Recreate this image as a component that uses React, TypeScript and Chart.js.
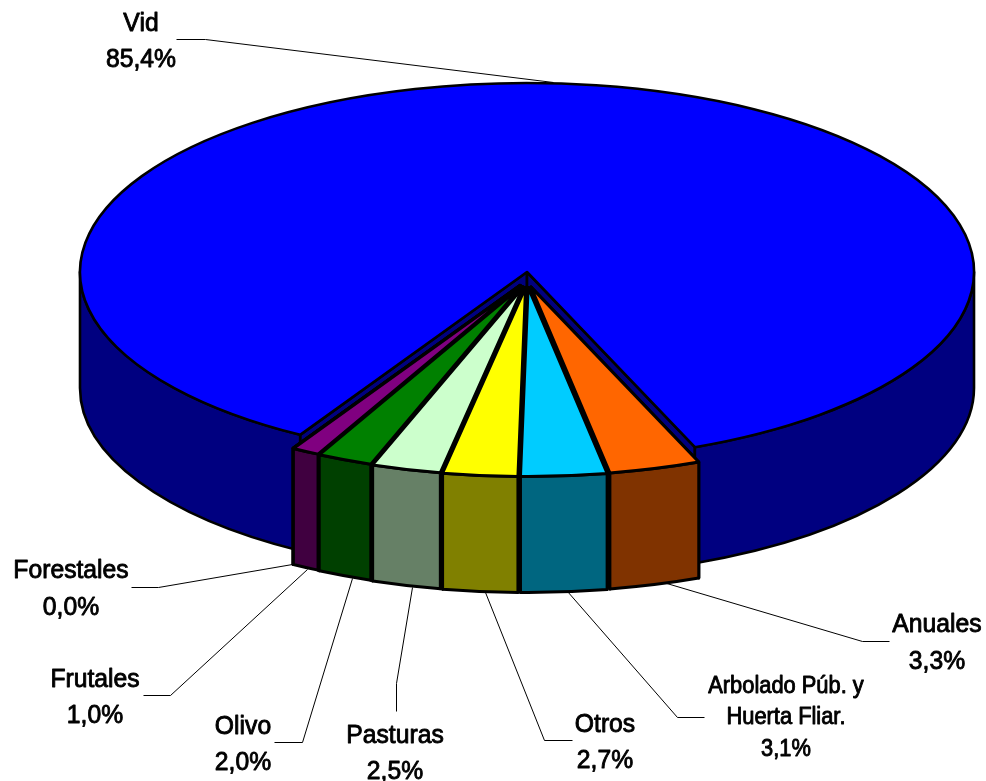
import React, { useEffect, useRef } from "react";
import { Chart, registerables } from "chart.js";

Chart.register(...registerables);

const categories = ["Vid", "Anuales", "Arbolado Púb. y|Huerta Fliar.", "Otros", "Pasturas", "Olivo", "Frutales", "Forestales"];
const shares = [85.4, 3.3, 3.1, 2.7, 2.5, 2.0, 1.0, 0.0];
const topColors = ["#0000FF", "#FF6600", "#00CCFF", "#FFFF00", "#CCFFCC", "#008000", "#800080", "#FF0000"];
const wallColors = ["#000080", "#803300", "#006680", "#808000", "#668066", "#004000", "#400040", "#800000"];

const CX = 527, CY = 272, RX = 447, RY = 189, DEPTH = 116;
const EX = 14, EY = 15.5;
const FONT_SIZE = 26;
const SMALL_FONT_SIZE = 23;
const SQUEEZE = 0.95;

type Callout = { cx: number; base: number[]; line: number[][]; small?: boolean };
const callouts: Callout[] = [
  { cx: 141, base: [31, 67], line: [[176, 39], [205, 39], [553, 82]] },
  { cx: 937, base: [632, 669], line: [[889, 641], [862, 641], [663, 582]] },
  { cx: 786, base: [693, 724, 756], small: true, line: [[704, 717], [677, 717], [567, 591]] },
  { cx: 605, base: [732, 768], line: [[572, 740], [544, 740], [485, 592]] },
  { cx: 395, base: [743, 779], line: [[396, 711], [396, 683], [412, 587]] },
  { cx: 243, base: [734, 770], line: [[274, 742], [302, 742], [352, 578]] },
  { cx: 95, base: [687, 723], line: [[143, 695], [170, 695], [307, 569]] },
  { cx: 71, base: [578, 615], line: [[131, 587], [158, 587], [292, 564]] },
];

const fmt = (v: number) => v.toFixed(1).replace(".", ",") + "%";

function wall(ctx: CanvasRenderingContext2D, a: number, b: number, ox: number, oy: number, fill: string) {
  for (let k = -1; k <= 2; k++) {
    const lo = Math.max(a, k * 2 * Math.PI);
    const hi = Math.min(b, k * 2 * Math.PI + Math.PI);
    if (hi <= lo) continue;
    ctx.beginPath();
    ctx.ellipse(CX + ox, CY + oy, RX, RY, 0, lo, hi);
    ctx.ellipse(CX + ox, CY + oy + DEPTH, RX, RY, 0, hi, lo, true);
    ctx.closePath();
    ctx.fillStyle = fill;
    ctx.fill();
    ctx.stroke();
  }
}

function face(ctx: CanvasRenderingContext2D, ang: number, ox: number, oy: number, fill: string) {
  const ax = CX + ox, ay = CY + oy;
  const ex = ax + RX * Math.cos(ang), ey = ay + RY * Math.sin(ang);
  ctx.beginPath();
  ctx.moveTo(ax, ay);
  ctx.lineTo(ex, ey);
  ctx.lineTo(ex, ey + DEPTH);
  ctx.lineTo(ax, ay + DEPTH);
  ctx.closePath();
  ctx.fillStyle = fill;
  ctx.fill();
  ctx.stroke();
}

function drawSlice(chart: any, idx: number) {
  const ctx: CanvasRenderingContext2D = chart.ctx;
  const arc: any = chart.getDatasetMeta(0).data[idx];
  const a = arc.startAngle, b = arc.endAngle;
  const mid = (a + b) / 2;
  const exploded = idx !== 0;
  const ox = exploded ? Math.cos(mid) * EX : 0;
  const oy = exploded ? Math.sin(mid) * EY : 0;
  ctx.strokeStyle = "#000";
  ctx.lineWidth = exploded ? 3 : 2.6;
  ctx.lineJoin = "round";
  face(ctx, a, ox, oy, wallColors[idx]);
  face(ctx, b, ox, oy, wallColors[idx]);
  wall(ctx, a, b, ox, oy, wallColors[idx]);
  ctx.save();
  ctx.translate(CX + ox, CY + oy);
  ctx.scale(RX / arc.outerRadius, RY / arc.outerRadius);
  ctx.translate(-arc.x, -arc.y);
  arc.draw(ctx);
  ctx.restore();
  ctx.beginPath();
  ctx.moveTo(CX + ox, CY + oy);
  ctx.ellipse(CX + ox, CY + oy, RX, RY, 0, a, b);
  ctx.closePath();
  ctx.stroke();
}

const pie3d = {
  id: "pie3d",
  beforeDatasetsDraw(chart: any) {
    const meta = chart.getDatasetMeta(0);
    const order = meta.data
      .map((_: any, i: number) => i)
      .filter((i: number) => i !== 0)
      .sort((p: number, q: number) => {
        const d = (i: number) => {
          const m = (meta.data[i].startAngle + meta.data[i].endAngle) / 2;
          return Math.abs(Math.atan2(Math.sin(m), Math.cos(m)) - Math.PI / 2);
        };
        return d(q) - d(p);
      });
    drawSlice(chart, 0);
    order.forEach((i: number) => drawSlice(chart, i));
    return false;
  },
  afterDraw(chart: any) {
    const ctx: CanvasRenderingContext2D = chart.ctx;
    ctx.save();
    ctx.strokeStyle = "#000";
    ctx.fillStyle = "#000";
    ctx.textAlign = "center";
    ctx.textBaseline = "alphabetic";
    callouts.forEach((c, i) => {
      ctx.lineWidth = 1;
      ctx.beginPath();
      c.line.forEach(([x, y], j) => (j ? ctx.lineTo(x + 0.5, y + 0.5) : ctx.moveTo(x + 0.5, y + 0.5)));
      ctx.stroke();
      const lines = [...categories[i].split("|"), fmt(shares[i])];
      ctx.font = `${c.small ? SMALL_FONT_SIZE : FONT_SIZE}px "Liberation Sans"`;
      ctx.lineWidth = 0.9;
      lines.forEach((t, j) => {
        const w = ctx.measureText(t).width * SQUEEZE;
        ctx.fillText(t, c.cx, c.base[j], w);
        ctx.strokeText(t, c.cx, c.base[j], w);
      });
    });
    ctx.restore();
  },
};

export default function App() {
  const ref = useRef<HTMLCanvasElement>(null);
  useEffect(() => {
    document.body.style.margin = "0";
    const chart = new Chart(ref.current!, {
      type: "pie",
      data: {
        labels: categories.map((c) => c.replace("|", " ")),
        datasets: [{ data: shares, backgroundColor: topColors, borderWidth: 0 }],
      },
      options: {
        animation: false,
        responsive: false,
        devicePixelRatio: 1,
        rotation: -149.5,
        plugins: { legend: { display: false }, tooltip: { enabled: false } },
      },
      plugins: [pie3d],
    } as any);
    return () => chart.destroy();
  }, []);
  return (
    <div style={{ width: 986, height: 781, background: "#fff" }}>
      <canvas ref={ref} width={986} height={781} style={{ display: "block" }} />
    </div>
  );
}
